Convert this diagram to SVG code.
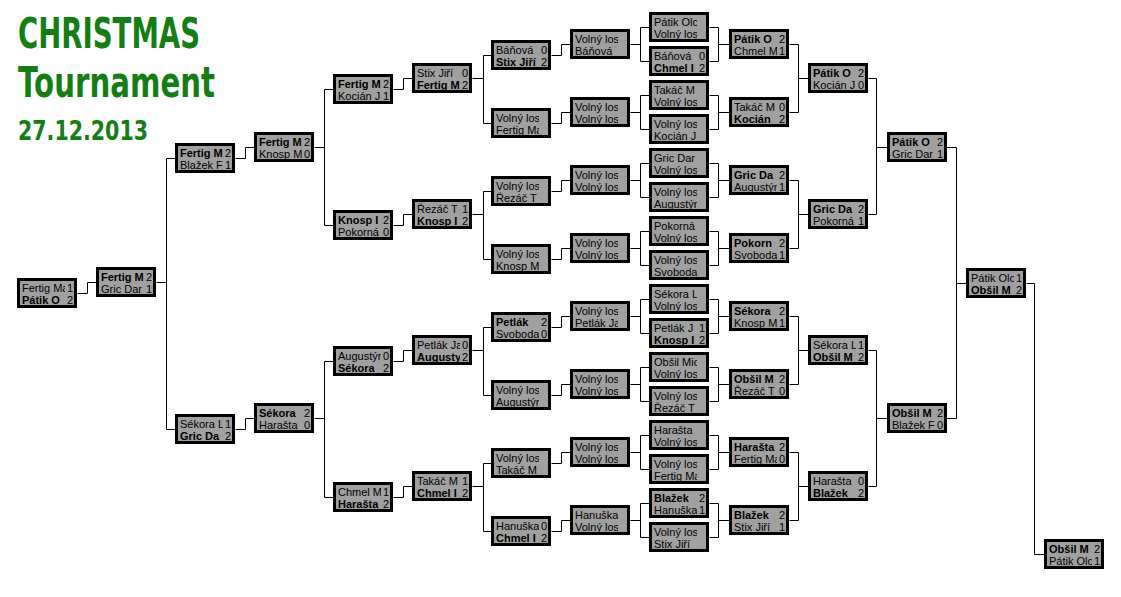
<svg xmlns="http://www.w3.org/2000/svg" xmlns:xlink="http://www.w3.org/1999/xlink" width="1121" height="597" viewBox="0 0 1121 597">
<style>
.n{font-family:"Liberation Sans",Arial,sans-serif;font-size:11px;fill:#000;clip-path:url(#nc)}
.s{font-family:"Liberation Sans",Arial,sans-serif;font-size:11px;fill:#000;text-anchor:end}
.b{font-weight:bold}
.ttl{font-family:"DejaVu Sans","Liberation Sans",sans-serif;font-weight:bold;fill:#118011}
#conn path{fill:none;stroke:#000;stroke-width:1}
</style>
<defs>
<rect id="bx" x="1.5" y="1.5" width="57" height="27" fill="#a0a0a0" stroke="#000" stroke-width="3"/>
<clipPath id="nc" clipPathUnits="userSpaceOnUse"><rect x="0" y="0" width="48" height="30"/></clipPath>
</defs>
<rect width="1121" height="597" fill="#fff"/>
<g id="title">
<text class="ttl" x="18" y="48" font-size="43" textLength="182" lengthAdjust="spacingAndGlyphs">CHRISTMAS</text>
<text class="ttl" x="18" y="97" font-size="43" textLength="197" lengthAdjust="spacingAndGlyphs">Tournament</text>
<text class="ttl" x="18" y="140" font-size="26" textLength="130" lengthAdjust="spacingAndGlyphs">27.12.2013</text>
</g>
<g id="conn" transform="translate(0.5,0.5)">
<path d="M649 27H640V61H649M640 44H630M649 95H640V129H649M640 112H630M649 163H640V197H649M640 180H630M649 231H640V265H649M640 248H630M649 299H640V333H649M640 316H630M649 367H640V401H649M640 384H630M649 435H640V469H649M640 452H630M649 503H640V537H649M640 520H630"/>
<path d="M709 27H718V61H709M718 44H729M709 95H718V129H709M718 112H729M709 163H718V197H709M718 180H729M709 231H718V265H709M718 248H729M709 299H718V333H709M718 316H729M709 367H718V401H709M718 384H729M709 435H718V469H709M718 452H729M709 503H718V537H709M718 520H729"/>
<path d="M570 44H561V55H551M570 112H561V123H551M570 180H561V191H551M570 248H561V259H551M570 316H561V327H551M570 384H561V395H551M570 452H561V463H551M570 520H561V531H551"/>
<path d="M491 55H483V123H491M483 78H472M491 191H483V259H491M483 214H472M491 327H483V395H491M483 350H472M491 463H483V531H491M483 486H472"/>
<path d="M412 78H403V89H393M412 214H403V225H393M412 350H403V361H393M412 486H403V497H393"/>
<path d="M333 89H324V225H333M324 147H314M333 361H324V497H333M324 418H314"/>
<path d="M254 147H245V158H235M254 418H245V429H235"/>
<path d="M175 158H166V429H175M166 282H156"/>
<path d="M96 282H87V293H77"/>
<path d="M789 44H798V112H789M798 78H808M789 180H798V248H789M798 214H808M789 316H798V384H789M798 350H808M789 452H798V520H789M798 486H808"/>
<path d="M868 78H876V214H868M876 147H887M868 350H876V486H868M876 418H887"/>
<path d="M946 147H956V418H946M956 283H966"/>
<path d="M1026 283H1034V554H1044"/>
</g>
<g id="c0" transform="translate(649,12)"><use href="#bx"/><text class="n" x="5" y="14">Pátik Olc</text><text class="n" x="5" y="25.5">Volný los</text></g>
<g id="c1" transform="translate(649,46)"><use href="#bx"/><text class="n" x="5" y="14">Báňová</text><text class="s" x="56" y="14">0</text><text class="n b" x="5" y="25.5">Chmel I</text><text class="s" x="56" y="25.5">2</text></g>
<g id="c2" transform="translate(649,80)"><use href="#bx"/><text class="n" x="5" y="14">Takáč M</text><text class="n" x="5" y="25.5">Volný los</text></g>
<g id="c3" transform="translate(649,114)"><use href="#bx"/><text class="n" x="5" y="14">Volný los</text><text class="n" x="5" y="25.5">Kocián J</text></g>
<g id="c4" transform="translate(649,148)"><use href="#bx"/><text class="n" x="5" y="14">Gric Dar</text><text class="n" x="5" y="25.5">Volný los</text></g>
<g id="c5" transform="translate(649,182)"><use href="#bx"/><text class="n" x="5" y="14">Volný los</text><text class="n" x="5" y="25.5">Augustýn</text></g>
<g id="c6" transform="translate(649,216)"><use href="#bx"/><text class="n" x="5" y="14">Pokorná</text><text class="n" x="5" y="25.5">Volný los</text></g>
<g id="c7" transform="translate(649,250)"><use href="#bx"/><text class="n" x="5" y="14">Volný los</text><text class="n" x="5" y="25.5">Svoboda</text></g>
<g id="c8" transform="translate(649,284)"><use href="#bx"/><text class="n" x="5" y="14">Sékora L</text><text class="n" x="5" y="25.5">Volný los</text></g>
<g id="c9" transform="translate(649,318)"><use href="#bx"/><text class="n" x="5" y="14">Petlák J</text><text class="s" x="56" y="14">1</text><text class="n b" x="5" y="25.5">Knosp I</text><text class="s" x="56" y="25.5">2</text></g>
<g id="c10" transform="translate(649,352)"><use href="#bx"/><text class="n" x="5" y="14">Obšil Mic</text><text class="n" x="5" y="25.5">Volný los</text></g>
<g id="c11" transform="translate(649,386)"><use href="#bx"/><text class="n" x="5" y="14">Volný los</text><text class="n" x="5" y="25.5">Řezáč T</text></g>
<g id="c12" transform="translate(649,420)"><use href="#bx"/><text class="n" x="5" y="14">Harašta</text><text class="n" x="5" y="25.5">Volný los</text></g>
<g id="c13" transform="translate(649,454)"><use href="#bx"/><text class="n" x="5" y="14">Volný los</text><text class="n" x="5" y="25.5">Fertig Ma</text></g>
<g id="c14" transform="translate(649,488)"><use href="#bx"/><text class="n b" x="5" y="14">Blažek</text><text class="s" x="56" y="14">2</text><text class="n" x="5" y="25.5">Hanuška</text><text class="s" x="56" y="25.5">1</text></g>
<g id="c15" transform="translate(649,522)"><use href="#bx"/><text class="n" x="5" y="14">Volný los</text><text class="n" x="5" y="25.5">Stix Jiří</text></g>
<g id="w1a" transform="translate(729,29)"><use href="#bx"/><text class="n b" x="5" y="14">Pátik O</text><text class="s" x="56" y="14">2</text><text class="n" x="5" y="25.5">Chmel M</text><text class="s" x="56" y="25.5">1</text></g>
<g id="w1b" transform="translate(729,97)"><use href="#bx"/><text class="n" x="5" y="14">Takáč M</text><text class="s" x="56" y="14">0</text><text class="n b" x="5" y="25.5">Kocián</text><text class="s" x="56" y="25.5">2</text></g>
<g id="w1c" transform="translate(729,165)"><use href="#bx"/><text class="n b" x="5" y="14">Gric Da</text><text class="s" x="56" y="14">2</text><text class="n" x="5" y="25.5">Augustýn</text><text class="s" x="56" y="25.5">1</text></g>
<g id="w1d" transform="translate(729,233)"><use href="#bx"/><text class="n b" x="5" y="14">Pokorn</text><text class="s" x="56" y="14">2</text><text class="n" x="5" y="25.5">Svoboda</text><text class="s" x="56" y="25.5">1</text></g>
<g id="w1e" transform="translate(729,301)"><use href="#bx"/><text class="n b" x="5" y="14">Sékora</text><text class="s" x="56" y="14">2</text><text class="n" x="5" y="25.5">Knosp M</text><text class="s" x="56" y="25.5">1</text></g>
<g id="w1f" transform="translate(729,369)"><use href="#bx"/><text class="n b" x="5" y="14">Obšil M</text><text class="s" x="56" y="14">2</text><text class="n" x="5" y="25.5">Řezáč T</text><text class="s" x="56" y="25.5">0</text></g>
<g id="w1g" transform="translate(729,437)"><use href="#bx"/><text class="n b" x="5" y="14">Harašta</text><text class="s" x="56" y="14">2</text><text class="n" x="5" y="25.5">Fertig Ma</text><text class="s" x="56" y="25.5">0</text></g>
<g id="w1h" transform="translate(729,505)"><use href="#bx"/><text class="n b" x="5" y="14">Blažek</text><text class="s" x="56" y="14">2</text><text class="n" x="5" y="25.5">Stix Jiří</text><text class="s" x="56" y="25.5">1</text></g>
<g id="w2a" transform="translate(808,63)"><use href="#bx"/><text class="n b" x="5" y="14">Pátik O</text><text class="s" x="56" y="14">2</text><text class="n" x="5" y="25.5">Kocián J</text><text class="s" x="56" y="25.5">0</text></g>
<g id="w2b" transform="translate(808,199)"><use href="#bx"/><text class="n b" x="5" y="14">Gric Da</text><text class="s" x="56" y="14">2</text><text class="n" x="5" y="25.5">Pokorná</text><text class="s" x="56" y="25.5">1</text></g>
<g id="w2c" transform="translate(808,335)"><use href="#bx"/><text class="n" x="5" y="14">Sékora L</text><text class="s" x="56" y="14">1</text><text class="n b" x="5" y="25.5">Obšil M</text><text class="s" x="56" y="25.5">2</text></g>
<g id="w2d" transform="translate(808,471)"><use href="#bx"/><text class="n" x="5" y="14">Harašta</text><text class="s" x="56" y="14">0</text><text class="n b" x="5" y="25.5">Blažek</text><text class="s" x="56" y="25.5">2</text></g>
<g id="w3a" transform="translate(887,132)"><use href="#bx"/><text class="n b" x="5" y="14">Pátik O</text><text class="s" x="56" y="14">2</text><text class="n" x="5" y="25.5">Gric Dar</text><text class="s" x="56" y="25.5">1</text></g>
<g id="w3b" transform="translate(887,403)"><use href="#bx"/><text class="n b" x="5" y="14">Obšil M</text><text class="s" x="56" y="14">2</text><text class="n" x="5" y="25.5">Blažek F</text><text class="s" x="56" y="25.5">0</text></g>
<g id="w4" transform="translate(966,268)"><use href="#bx"/><text class="n" x="5" y="14">Pátik Olc</text><text class="s" x="56" y="14">1</text><text class="n b" x="5" y="25.5">Obšil M</text><text class="s" x="56" y="25.5">2</text></g>
<g id="final" transform="translate(1044,539)"><use href="#bx"/><text class="n b" x="5" y="14">Obšil M</text><text class="s" x="56" y="14">2</text><text class="n" x="5" y="25.5">Pátik Olc</text><text class="s" x="56" y="25.5">1</text></g>
<g id="l1a" transform="translate(570,29)"><use href="#bx"/><text class="n" x="5" y="14">Volný los</text><text class="n" x="5" y="25.5">Báňová</text></g>
<g id="l1b" transform="translate(570,97)"><use href="#bx"/><text class="n" x="5" y="14">Volný los</text><text class="n" x="5" y="25.5">Volný los</text></g>
<g id="l1c" transform="translate(570,165)"><use href="#bx"/><text class="n" x="5" y="14">Volný los</text><text class="n" x="5" y="25.5">Volný los</text></g>
<g id="l1d" transform="translate(570,233)"><use href="#bx"/><text class="n" x="5" y="14">Volný los</text><text class="n" x="5" y="25.5">Volný los</text></g>
<g id="l1e" transform="translate(570,301)"><use href="#bx"/><text class="n" x="5" y="14">Volný los</text><text class="n" x="5" y="25.5">Petlák Ja</text></g>
<g id="l1f" transform="translate(570,369)"><use href="#bx"/><text class="n" x="5" y="14">Volný los</text><text class="n" x="5" y="25.5">Volný los</text></g>
<g id="l1g" transform="translate(570,437)"><use href="#bx"/><text class="n" x="5" y="14">Volný los</text><text class="n" x="5" y="25.5">Volný los</text></g>
<g id="l1h" transform="translate(570,505)"><use href="#bx"/><text class="n" x="5" y="14">Hanuška</text><text class="n" x="5" y="25.5">Volný los</text></g>
<g id="l2a" transform="translate(491,40)"><use href="#bx"/><text class="n" x="5" y="14">Báňová</text><text class="s" x="56" y="14">0</text><text class="n b" x="5" y="25.5">Stix Jiří</text><text class="s" x="56" y="25.5">2</text></g>
<g id="l2b" transform="translate(491,108)"><use href="#bx"/><text class="n" x="5" y="14">Volný los</text><text class="n" x="5" y="25.5">Fertig Ma</text></g>
<g id="l2c" transform="translate(491,176)"><use href="#bx"/><text class="n" x="5" y="14">Volný los</text><text class="n" x="5" y="25.5">Řezáč T</text></g>
<g id="l2d" transform="translate(491,244)"><use href="#bx"/><text class="n" x="5" y="14">Volný los</text><text class="n" x="5" y="25.5">Knosp M</text></g>
<g id="l2e" transform="translate(491,312)"><use href="#bx"/><text class="n b" x="5" y="14">Petlák</text><text class="s" x="56" y="14">2</text><text class="n" x="5" y="25.5">Svoboda</text><text class="s" x="56" y="25.5">0</text></g>
<g id="l2f" transform="translate(491,380)"><use href="#bx"/><text class="n" x="5" y="14">Volný los</text><text class="n" x="5" y="25.5">Augustýn</text></g>
<g id="l2g" transform="translate(491,448)"><use href="#bx"/><text class="n" x="5" y="14">Volný los</text><text class="n" x="5" y="25.5">Takáč M</text></g>
<g id="l2h" transform="translate(491,516)"><use href="#bx"/><text class="n" x="5" y="14">Hanuška</text><text class="s" x="56" y="14">0</text><text class="n b" x="5" y="25.5">Chmel I</text><text class="s" x="56" y="25.5">2</text></g>
<g id="l3a" transform="translate(412,63)"><use href="#bx"/><text class="n" x="5" y="14">Stix Jiří</text><text class="s" x="56" y="14">0</text><text class="n b" x="5" y="25.5">Fertig M</text><text class="s" x="56" y="25.5">2</text></g>
<g id="l3b" transform="translate(412,199)"><use href="#bx"/><text class="n" x="5" y="14">Řezáč T</text><text class="s" x="56" y="14">1</text><text class="n b" x="5" y="25.5">Knosp I</text><text class="s" x="56" y="25.5">2</text></g>
<g id="l3c" transform="translate(412,335)"><use href="#bx"/><text class="n" x="5" y="14">Petlák Ja</text><text class="s" x="56" y="14">0</text><text class="n b" x="5" y="25.5">Augusty</text><text class="s" x="56" y="25.5">2</text></g>
<g id="l3d" transform="translate(412,471)"><use href="#bx"/><text class="n" x="5" y="14">Takáč M</text><text class="s" x="56" y="14">1</text><text class="n b" x="5" y="25.5">Chmel I</text><text class="s" x="56" y="25.5">2</text></g>
<g id="l4a" transform="translate(333,74)"><use href="#bx"/><text class="n b" x="5" y="14">Fertig M</text><text class="s" x="56" y="14">2</text><text class="n" x="5" y="25.5">Kocián J</text><text class="s" x="56" y="25.5">1</text></g>
<g id="l4b" transform="translate(333,210)"><use href="#bx"/><text class="n b" x="5" y="14">Knosp I</text><text class="s" x="56" y="14">2</text><text class="n" x="5" y="25.5">Pokorná</text><text class="s" x="56" y="25.5">0</text></g>
<g id="l4c" transform="translate(333,346)"><use href="#bx"/><text class="n" x="5" y="14">Augustýn</text><text class="s" x="56" y="14">0</text><text class="n b" x="5" y="25.5">Sékora</text><text class="s" x="56" y="25.5">2</text></g>
<g id="l4d" transform="translate(333,482)"><use href="#bx"/><text class="n" x="5" y="14">Chmel M</text><text class="s" x="56" y="14">1</text><text class="n b" x="5" y="25.5">Harašta</text><text class="s" x="56" y="25.5">2</text></g>
<g id="l5a" transform="translate(254,132)"><use href="#bx"/><text class="n b" x="5" y="14">Fertig M</text><text class="s" x="56" y="14">2</text><text class="n" x="5" y="25.5">Knosp M</text><text class="s" x="56" y="25.5">0</text></g>
<g id="l5b" transform="translate(254,403)"><use href="#bx"/><text class="n b" x="5" y="14">Sékora</text><text class="s" x="56" y="14">2</text><text class="n" x="5" y="25.5">Harašta</text><text class="s" x="56" y="25.5">0</text></g>
<g id="l6a" transform="translate(175,143)"><use href="#bx"/><text class="n b" x="5" y="14">Fertig M</text><text class="s" x="56" y="14">2</text><text class="n" x="5" y="25.5">Blažek F</text><text class="s" x="56" y="25.5">1</text></g>
<g id="l6b" transform="translate(175,414)"><use href="#bx"/><text class="n" x="5" y="14">Sékora L</text><text class="s" x="56" y="14">1</text><text class="n b" x="5" y="25.5">Gric Da</text><text class="s" x="56" y="25.5">2</text></g>
<g id="l7" transform="translate(96,267)"><use href="#bx"/><text class="n b" x="5" y="14">Fertig M</text><text class="s" x="56" y="14">2</text><text class="n" x="5" y="25.5">Gric Dar</text><text class="s" x="56" y="25.5">1</text></g>
<g id="l8" transform="translate(17,278)"><use href="#bx"/><text class="n" x="5" y="14">Fertig Ma</text><text class="s" x="56" y="14">1</text><text class="n b" x="5" y="25.5">Pátik O</text><text class="s" x="56" y="25.5">2</text></g>
</svg>
